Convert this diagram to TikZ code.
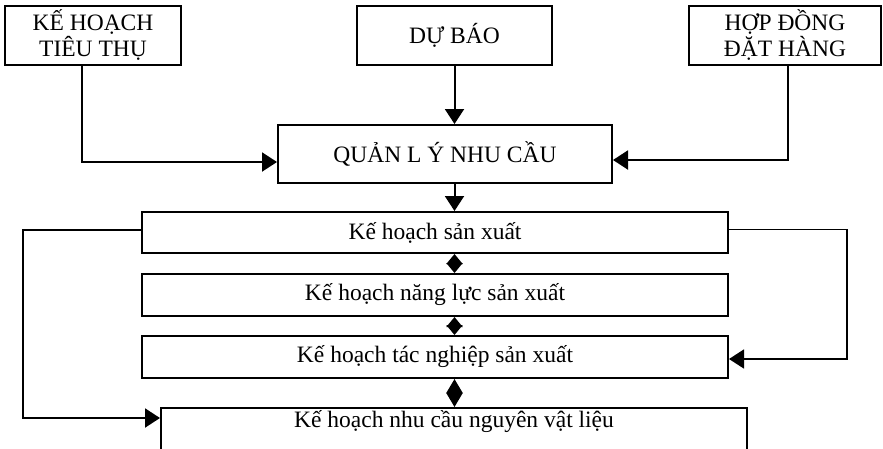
\documentclass[tikz,border=0pt]{standalone}
\usepackage{fontspec}
\setmainfont{Liberation Serif}
\usetikzlibrary{arrows.meta}

\begin{document}
\begin{tikzpicture}[x=1pt,y=-1pt,
        plan/.style={draw,line width=2pt,inner sep=2pt,align=center,
            font=\fontsize{23.5}{26}\selectfont},
        link/.style={line width=2pt,-{Triangle[length=15pt,width=19pt]}},
        twoway/.style={line width=2pt,
            {Triangle[length=10pt,width=16pt]}-{Triangle[length=10pt,width=16pt]}}]
        \useasboundingbox (0,0) rectangle (883,448);

        % upper row
        \node[plan,minimum width=176pt,minimum height=59pt] (tieuthu) at (93,35.5) {KẾ HOẠCH\\TIÊU THỤ};
        \node[plan,minimum width=195pt,minimum height=59pt] (dubao) at (454.5,35.5) {DỰ BÁO};
        \node[plan,minimum width=192pt,minimum height=59pt] (hopdong) at (785,35.5) {HỢP ĐỒNG\\ĐẶT HÀNG};
        \node[plan,minimum width=334pt,minimum height=58pt] (quanly) at (445,154) {QUẢN L Ý NHU CẦU};

        % plans
        \node[plan,minimum width=586pt,minimum height=41pt] (sanxuat) at (435,232.5) {Kế hoạch sản xuất};
        \node[plan,minimum width=586pt,minimum height=42pt] (nangluc) at (435,295) {Kế hoạch năng lực sản xuất};
        \node[plan,minimum width=586pt,minimum height=42pt] (tacnghiep) at (435,357) {Kế hoạch tác nghiệp sản xuất};
        \node[plan,minimum width=586pt,text height=17pt,text depth=30pt,anchor=north] (nguyenlieu) at (454,407) {Kế hoạch nhu cầu nguyên vật liệu};

        \draw [link] ([xshift=-11pt]tieuthu.south) |- ([yshift=-8pt]quanly.west);
        \draw [link] (dubao.south) -- (quanly.north -| dubao.south);
        \draw [link] ([xshift=3pt]hopdong.south) |- ([yshift=-6pt]quanly.east);
        \draw [link] (quanly.south -| dubao.south) -- (sanxuat.north -| dubao.south);

        \draw [twoway] (sanxuat.south -| dubao.south) -- (nangluc.north -| dubao.south);
        \draw [twoway] (nangluc.south -| dubao.south) -- (tacnghiep.north -| dubao.south);
        \draw [twoway,{Triangle[length=14pt,width=16pt]}-{Triangle[length=14pt,width=16pt]}] (tacnghiep.south -| dubao.south) -- (nguyenlieu.north -| dubao.south);

        \draw [link] ([yshift=3pt]sanxuat.west) -- ++(-118,0) |- ([yshift=-11pt]nguyenlieu.north west);
        \draw [link,line width=1.6pt] ([yshift=3pt]sanxuat.east) -- ++(118,0) |- ([yshift=-2pt]tacnghiep.east);
    \end{tikzpicture}
\end{document}
